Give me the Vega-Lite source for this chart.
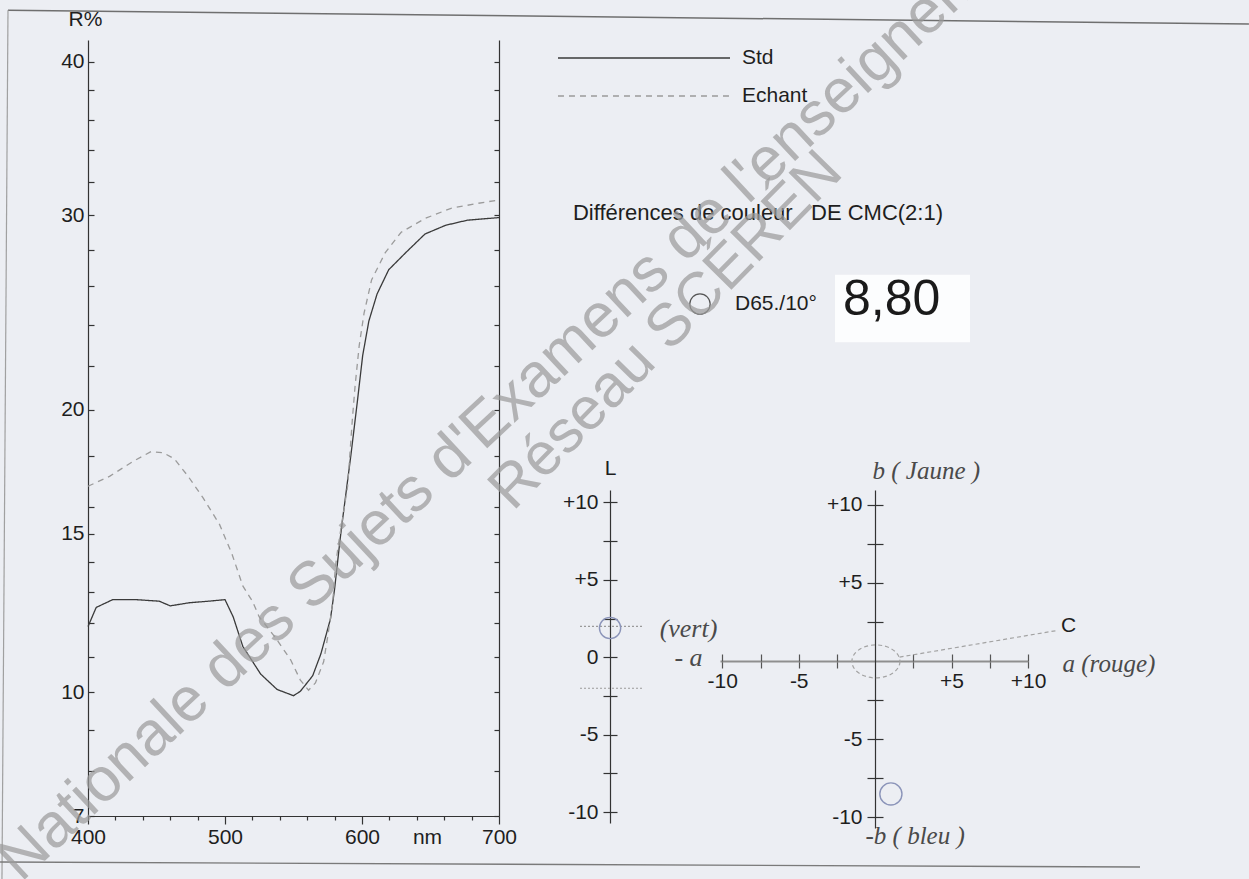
{
  "$schema": "https://vega.github.io/schema/vega-lite/v6.json",
  "width": 1249,
  "height": 879,
  "autosize": {"type": "none"},
  "padding": 0,
  "background": "#eceef3",
  "config": {
    "view": {"stroke": null},
    "font": "Liberation Sans",
    "axis": {
      "labelFont": "Liberation Sans", "titleFont": "Liberation Sans",
      "labelFontSize": 21, "titleFontSize": 21, "titleFontWeight": "normal",
      "labelColor": "#1e1e1e", "titleColor": "#1e1e1e",
      "domainColor": "#333333", "tickColor": "#333333",
      "domainWidth": 1.2, "tickWidth": 1.2, "grid": false,
      "labelOverlap": false, "labelFlush": false
    }
  },
  "datasets": {
    "spectra": [
      {"nm": 400, "R": 11.9, "series": "Std"},
      {"nm": 406, "R": 12.5, "series": "Std"},
      {"nm": 418, "R": 12.75, "series": "Std"},
      {"nm": 435, "R": 12.75, "series": "Std"},
      {"nm": 452, "R": 12.7, "series": "Std"},
      {"nm": 460, "R": 12.55, "series": "Std"},
      {"nm": 474, "R": 12.65, "series": "Std"},
      {"nm": 488, "R": 12.7, "series": "Std"},
      {"nm": 500, "R": 12.75, "series": "Std"},
      {"nm": 506, "R": 12.2, "series": "Std"},
      {"nm": 513, "R": 11.3, "series": "Std"},
      {"nm": 526, "R": 10.5, "series": "Std"},
      {"nm": 538, "R": 10.07, "series": "Std"},
      {"nm": 550, "R": 9.9, "series": "Std"},
      {"nm": 555, "R": 10.02, "series": "Std"},
      {"nm": 564, "R": 10.45, "series": "Std"},
      {"nm": 570, "R": 11.08, "series": "Std"},
      {"nm": 577, "R": 12.14, "series": "Std"},
      {"nm": 580, "R": 13.1, "series": "Std"},
      {"nm": 584, "R": 14.8, "series": "Std"},
      {"nm": 586, "R": 15.6, "series": "Std"},
      {"nm": 592, "R": 18.1, "series": "Std"},
      {"nm": 596.5, "R": 20.3, "series": "Std"},
      {"nm": 600.5, "R": 22.5, "series": "Std"},
      {"nm": 605, "R": 24.2, "series": "Std"},
      {"nm": 611, "R": 25.6, "series": "Std"},
      {"nm": 619.5, "R": 26.9, "series": "Std"},
      {"nm": 632, "R": 27.85, "series": "Std"},
      {"nm": 646, "R": 28.9, "series": "Std"},
      {"nm": 661, "R": 29.4, "series": "Std"},
      {"nm": 677, "R": 29.7, "series": "Std"},
      {"nm": 700, "R": 29.85, "series": "Std"},
      {"nm": 400, "R": 16.8, "series": "Echant"},
      {"nm": 416, "R": 17.2, "series": "Echant"},
      {"nm": 433, "R": 17.8, "series": "Echant"},
      {"nm": 446, "R": 18.2, "series": "Echant"},
      {"nm": 455, "R": 18.15, "series": "Echant"},
      {"nm": 463, "R": 17.9, "series": "Echant"},
      {"nm": 473, "R": 17.2, "series": "Echant"},
      {"nm": 484, "R": 16.35, "series": "Echant"},
      {"nm": 496, "R": 15.35, "series": "Echant"},
      {"nm": 505, "R": 14.3, "series": "Echant"},
      {"nm": 513, "R": 13.2, "series": "Echant"},
      {"nm": 520, "R": 12.7, "series": "Echant"},
      {"nm": 525, "R": 12.2, "series": "Echant"},
      {"nm": 537, "R": 11.55, "series": "Echant"},
      {"nm": 548, "R": 10.9, "series": "Echant"},
      {"nm": 555, "R": 10.33, "series": "Echant"},
      {"nm": 561, "R": 10.05, "series": "Echant"},
      {"nm": 566, "R": 10.25, "series": "Echant"},
      {"nm": 572, "R": 10.85, "series": "Echant"},
      {"nm": 575, "R": 11.6, "series": "Echant"},
      {"nm": 578.6, "R": 12.65, "series": "Echant"},
      {"nm": 580.5, "R": 13.8, "series": "Echant"},
      {"nm": 582.4, "R": 14.5, "series": "Echant"},
      {"nm": 589.5, "R": 16.8, "series": "Echant"},
      {"nm": 593, "R": 19.6, "series": "Echant"},
      {"nm": 595, "R": 21.1, "series": "Echant"},
      {"nm": 598, "R": 23.0, "series": "Echant"},
      {"nm": 601.5, "R": 24.6, "series": "Echant"},
      {"nm": 607, "R": 26.35, "series": "Echant"},
      {"nm": 617, "R": 27.85, "series": "Echant"},
      {"nm": 628.6, "R": 29.0, "series": "Echant"},
      {"nm": 646, "R": 29.8, "series": "Echant"},
      {"nm": 665, "R": 30.4, "series": "Echant"},
      {"nm": 685, "R": 30.7, "series": "Echant"},
      {"nm": 700, "R": 30.9, "series": "Echant"}
    ],
    "lightness": [{"sample": "Echant", "dL": 1.89}],
    "tolerance": [{"bound": "+", "dL": 2}, {"bound": "-", "dL": -2}],
    "chromaticity": [{"sample": "Echant", "da": 1.03, "db": -8.52}],
    "ellipse": [{"da": 0.05, "db": -0.03}],
    "chroma_axis": [{"da": 1.6, "db": 0.25, "end": ""}, {"da": 11.9, "db": 1.95, "end": "C"}],
    "result": [{"title": "Différences de couleur\u00a0\u00a0\u00a0DE CMC(2:1)", "illuminant": "D65./10°", "dE": "8,80"}],
    "watermark": [{"line1": "Nationale des Sujets d'Examens de l'enseignement professionnel", "line2": "Réseau SCÉRÉN"}],
    "page": [{"element": "frame"}]
  },
  "layer": [
    {
      "data": {"name": "page"},
      "layer": [
        {
          "mark": {"type": "rule", "color": "#6f6f6f", "strokeWidth": 1.5},
          "encoding": {
            "x": {"datum": 341.6, "type": "quantitative", "scale": {"domain": [400, 700], "range": [88, 499], "nice": false, "zero": false}, "axis": null},
            "x2": {"datum": 1247.4},
            "y": {"datum": 43.85, "type": "quantitative", "scale": {"type": "pow", "exponent": 0.3, "domain": [7, 41.6], "range": [816, 40], "nice": false, "zero": false}, "axis": null},
            "y2": {"datum": 42.79}
          }
        },
        {
          "mark": {"type": "rule", "color": "#a0a0a0", "strokeWidth": 1.2},
          "encoding": {
            "x": {"datum": 341.6, "type": "quantitative", "scale": {"domain": [400, 700], "range": [88, 499], "nice": false, "zero": false}, "axis": null},
            "x2": {"datum": 337.2},
            "y": {"datum": 43.85, "type": "quantitative", "scale": {"type": "pow", "exponent": 0.3, "domain": [7, 41.6], "range": [816, 40], "nice": false, "zero": false}, "axis": null},
            "y2": {"datum": 5.748}
          }
        },
        {
          "mark": {"type": "rule", "color": "#7a7a7a", "strokeWidth": 1.4},
          "encoding": {
            "x": {"datum": 335.8, "type": "quantitative", "scale": {"domain": [400, 700], "range": [88, 499], "nice": false, "zero": false}, "axis": null},
            "x2": {"datum": 1167.9},
            "y": {"datum": 6.069, "type": "quantitative", "scale": {"type": "pow", "exponent": 0.3, "domain": [7, 41.6], "range": [816, 40], "nice": false, "zero": false}, "axis": null},
            "y2": {"datum": 5.974}
          }
        }
      ]
    },
    {
      "data": {"name": "spectra"},
      "layer": [
        {
          "mark": {"type": "line", "strokeWidth": 1.3},
          "encoding": {
            "x": {"field": "nm", "type": "quantitative",
              "scale": {"domain": [400, 700], "range": [88, 499], "nice": false, "zero": false},
              "axis": {"orient": "bottom", "offset": -63, "values": [400, 500, 600, 700], "format": "d", "tickSize": 8, "labelPadding": 2,
                "title": "nm", "titleX": 427, "titleY": 21, "titleAngle": 0, "titleAlign": "center", "titleBaseline": "middle"}},
            "y": {"field": "R", "type": "quantitative",
              "scale": {"type": "pow", "exponent": 0.3, "domain": [7, 41.6], "range": [816, 40], "nice": false, "zero": false},
              "axis": {"orient": "left", "offset": -88,
                "values": [7, 8, 9, 10, 11, 12, 13, 14, 15, 16, 18, 20, 22, 24, 26, 28, 30, 32, 34, 36, 38, 40],
                "labelExpr": "indexof([7, 10, 15, 20, 30, 40], datum.value) >= 0 ? datum.label : ''",
                "tickSize": -6, "labelPadding": 10,
                "title": "R%", "titleAngle": 0, "titleX": -3, "titleY": 19, "titleAlign": "center", "titleBaseline": "middle"}},
            "color": {"field": "series", "type": "nominal",
              "scale": {"domain": ["Std", "Echant"], "range": ["#3a3a3a", "#9b9b9b"]},
              "legend": {"title": null, "orient": "none", "legendX": 633.5, "legendY": 47.5, "symbolType": "M-10,0H10", "symbolSize": 296,
                "symbolStrokeWidth": 1.3, "labelFontSize": 21, "labelFont": "Liberation Sans", "labelColor": "#1e1e1e", "labelOffset": 87.5, "rowPadding": 16, "padding": 0}},
            "strokeDash": {"field": "series", "type": "nominal",
              "scale": {"domain": ["Std", "Echant"], "range": [[1, 0], [6, 5]]},
              "legend": {"title": null, "orient": "none", "legendX": 633.5, "legendY": 47.5, "symbolType": "M-10,0H10", "symbolSize": 296,
                "symbolStrokeWidth": 1.3, "labelFontSize": 21, "labelFont": "Liberation Sans", "labelColor": "#1e1e1e", "labelOffset": 87.5, "rowPadding": 16, "padding": 0}}
          }
        },
        {
          "mark": {"type": "point", "opacity": 0},
          "encoding": {
            "x": {"field": "nm", "type": "quantitative",
              "scale": {"domain": [400, 700], "range": [88, 499], "nice": false, "zero": false},
              "axis": {"orient": "bottom", "offset": -63, "values": [420, 440, 460, 480, 520, 540, 560, 580, 620, 640, 660, 680],
                "tickSize": 4, "labels": false, "domain": false, "title": null}},
            "y": {"field": "R", "type": "quantitative",
              "scale": {"type": "pow", "exponent": 0.3, "domain": [7, 41.6], "range": [816, 40], "nice": false, "zero": false},
              "axis": {"orient": "right", "offset": -750,
                "values": [7, 8, 9, 10, 11, 12, 13, 14, 15, 16, 18, 20, 22, 24, 26, 28, 30, 32, 34, 36, 38, 40],
                "tickSize": -5, "labels": false, "domain": true, "title": null}}
          }
        }
      ],
      "resolve": {"axis": {"x": "independent", "y": "independent"}}
    },
    {
      "layer": [
        {
          "data": {"name": "tolerance"},
          "mark": {"type": "rule", "color": "#9a9a9a", "strokeWidth": 1.2, "strokeDash": [2, 2]},
          "encoding": {
            "x": {"datum": -1, "type": "quantitative", "scale": {"domain": [-1, 1], "range": [580, 642]}, "axis": null},
            "x2": {"datum": 1},
            "y": {"field": "dL", "type": "quantitative",
              "scale": {"domain": [-10.7, 10.8], "range": [823, 490], "nice": false, "zero": false},
              "axis": {"orient": "left", "offset": -610, "values": [-10, -7.5, -5, -2.5, 0, 2.5, 5, 7.5, 10],
                "labelExpr": "datum.value % 5 === 0 ? (datum.value > 0 ? '+' + datum.value : '' + datum.value) : ''",
                "tickSize": 7, "labelPadding": 5,
                "title": "L", "titleAngle": 0, "titleX": 0, "titleY": 468, "titleAlign": "center", "titleBaseline": "middle"}}
          }
        },
        {
          "data": {"name": "lightness"},
          "mark": {"type": "point", "shape": "circle", "filled": false, "size": 452, "stroke": "#8b94b9", "strokeWidth": 1.4, "opacity": 1},
          "encoding": {
            "x": {"datum": -0.03, "type": "quantitative", "scale": {"domain": [-1, 1], "range": [580, 642]}, "axis": null},
            "y": {"field": "dL", "type": "quantitative",
              "scale": {"domain": [-10.7, 10.8], "range": [823, 490], "nice": false, "zero": false},
              "axis": {"orient": "left", "offset": -610, "values": [-10, -7.5, -5, -2.5, 0, 2.5, 5, 7.5, 10],
                "tickSize": -7, "labels": false, "domain": false, "title": null}}
          }
        }
      ],
      "resolve": {"axis": {"y": "independent"}}
    },
    {
      "layer": [
        {
          "data": {"name": "chromaticity"},
          "mark": {"type": "point", "shape": "circle", "filled": false, "size": 491, "stroke": "#8b94b9", "strokeWidth": 1.4, "opacity": 1},
          "encoding": {
            "x": {"field": "da", "type": "quantitative",
              "scale": {"domain": [-10.15, 10], "range": [720, 1028], "nice": false, "zero": false},
              "axis": {"orient": "bottom", "offset": -218, "values": [-10, -7.5, -5, -2.5, 2.5, 5, 7.5, 10],
                "labelExpr": "datum.value % 5 === 0 ? (datum.value > 0 ? '+' + datum.value : '' + datum.value) : ''",
                "tickSize": 7, "labelPadding": 2, "domainColor": "#8f8f8f", "domainWidth": 2, "tickColor": "#555555",
                "title": "a (rouge)", "titleX": 1062, "titleY": 2, "titleAngle": 0, "titleAlign": "left", "titleBaseline": "middle",
                "titleFont": "Liberation Serif", "titleFontStyle": "italic", "titleFontSize": 25, "titleColor": "#4a4a4a"}},
            "y": {"field": "db", "type": "quantitative",
              "scale": {"domain": [-10.7, 10.95], "range": [828, 490], "nice": false, "zero": false},
              "axis": {"orient": "left", "offset": -875, "values": [-10, -7.5, -5, -2.5, 2.5, 5, 7.5, 10],
                "labelExpr": "datum.value % 5 === 0 ? (datum.value > 0 ? '+' + datum.value : '' + datum.value) : ''",
                "tickSize": 8, "labelPadding": 5,
                "title": "b ( Jaune )", "titleAngle": 0, "titleX": -3, "titleY": 470, "titleAlign": "left", "titleBaseline": "middle",
                "titleFont": "Liberation Serif", "titleFontStyle": "italic", "titleFontSize": 25, "titleColor": "#4a4a4a"}}
          }
        },
        {
          "data": {"name": "ellipse"},
          "mark": {"type": "point", "shape": "M1,0C1,0.3797,0.5523,0.6875,0,0.6875C-0.5523,0.6875,-1,0.3797,-1,0C-1,-0.3797,-0.5523,-0.6875,0,-0.6875C0.5523,-0.6875,1,-0.3797,1,0Z",
            "filled": false, "size": 2304, "stroke": "#a3a3a3", "strokeWidth": 1.2, "strokeDash": [4, 3], "opacity": 1},
          "encoding": {
            "x": {"field": "da", "type": "quantitative",
              "scale": {"domain": [-10.15, 10], "range": [720, 1028], "nice": false, "zero": false},
              "axis": {"orient": "bottom", "offset": -218, "values": [-10, -7.5, -5, -2.5, 2.5, 5, 7.5, 10],
                "tickSize": -7, "labels": false, "domain": false, "tickColor": "#555555",
                "title": ["(vert)", "- a"], "titleX": 688, "titleY": -33, "titleAngle": 0, "titleAlign": "center", "titleBaseline": "middle", "titleLineHeight": 29,
                "titleFont": "Liberation Serif", "titleFontStyle": "italic", "titleFontSize": 26, "titleColor": "#4a4a4a"}},
            "y": {"field": "db", "type": "quantitative",
              "scale": {"domain": [-10.7, 10.95], "range": [828, 490], "nice": false, "zero": false},
              "axis": {"orient": "left", "offset": -875, "values": [-10, -7.5, -5, -2.5, 2.5, 5, 7.5, 10],
                "tickSize": -8, "labels": false, "domain": false,
                "title": "-b ( bleu )", "titleAngle": 0, "titleX": -10, "titleY": 835, "titleAlign": "left", "titleBaseline": "middle",
                "titleFont": "Liberation Serif", "titleFontStyle": "italic", "titleFontSize": 25, "titleColor": "#4a4a4a"}}
          }
        },
        {
          "data": {"name": "chroma_axis"},
          "mark": {"type": "line", "stroke": "#a3a3a3", "strokeWidth": 1.2, "strokeDash": [4, 3]},
          "encoding": {
            "x": {"field": "da", "type": "quantitative", "scale": {"domain": [-10.15, 10], "range": [720, 1028], "nice": false, "zero": false}, "axis": null},
            "y": {"field": "db", "type": "quantitative", "scale": {"domain": [-10.7, 10.95], "range": [828, 490], "nice": false, "zero": false}, "axis": null}
          }
        },
        {
          "data": {"name": "chroma_axis"},
          "mark": {"type": "text", "align": "left", "baseline": "middle", "dx": 4, "dy": -5, "fontSize": 21, "color": "#1e1e1e"},
          "encoding": {
            "x": {"field": "da", "type": "quantitative", "scale": {"domain": [-10.15, 10], "range": [720, 1028], "nice": false, "zero": false}, "axis": null},
            "y": {"field": "db", "type": "quantitative", "scale": {"domain": [-10.7, 10.95], "range": [828, 490], "nice": false, "zero": false}, "axis": null},
            "text": {"field": "end"}
          }
        },
        {
          "data": {"name": "result"},
          "mark": {"type": "text", "align": "left", "baseline": "middle", "fontSize": 22, "color": "#1e1e1e"},
          "encoding": {
            "x": {"datum": -19.77, "type": "quantitative", "scale": {"domain": [-10.15, 10], "range": [720, 1028], "nice": false, "zero": false}, "axis": null},
            "y": {"datum": 28.69, "type": "quantitative", "scale": {"domain": [-10.7, 10.95], "range": [828, 490], "nice": false, "zero": false}, "axis": null},
            "text": {"field": "title"}
          }
        },
        {
          "data": {"name": "result"},
          "mark": {"type": "point", "shape": "circle", "filled": false, "size": 415, "stroke": "#555555", "strokeWidth": 1.2, "opacity": 1},
          "encoding": {
            "x": {"datum": -11.46, "type": "quantitative", "scale": {"domain": [-10.15, 10], "range": [720, 1028], "nice": false, "zero": false}, "axis": null},
            "y": {"datum": 22.86, "type": "quantitative", "scale": {"domain": [-10.7, 10.95], "range": [828, 490], "nice": false, "zero": false}, "axis": null}
          }
        },
        {
          "data": {"name": "result"},
          "mark": {"type": "text", "align": "left", "baseline": "middle", "fontSize": 21, "color": "#1e1e1e"},
          "encoding": {
            "x": {"datum": -9.17, "type": "quantitative", "scale": {"domain": [-10.15, 10], "range": [720, 1028], "nice": false, "zero": false}, "axis": null},
            "y": {"datum": 22.86, "type": "quantitative", "scale": {"domain": [-10.7, 10.95], "range": [828, 490], "nice": false, "zero": false}, "axis": null},
            "text": {"field": "illuminant"}
          }
        },
        {
          "data": {"name": "result"},
          "mark": {"type": "point", "shape": "M-1,-0.5H1V0.5H-1Z", "filled": true, "size": 18225, "color": "#ffffff", "opacity": 0.85, "strokeWidth": 0},
          "encoding": {
            "x": {"datum": 1.79, "type": "quantitative", "scale": {"domain": [-10.15, 10], "range": [720, 1028], "nice": false, "zero": false}, "axis": null},
            "y": {"datum": 22.58, "type": "quantitative", "scale": {"domain": [-10.7, 10.95], "range": [828, 490], "nice": false, "zero": false}, "axis": null}
          }
        },
        {
          "data": {"name": "result"},
          "mark": {"type": "text", "align": "left", "baseline": "middle", "fontSize": 50, "color": "#1a1a1a"},
          "encoding": {
            "x": {"datum": -2.1, "type": "quantitative", "scale": {"domain": [-10.15, 10], "range": [720, 1028], "nice": false, "zero": false}, "axis": null},
            "y": {"datum": 23.12, "type": "quantitative", "scale": {"domain": [-10.7, 10.95], "range": [828, 490], "nice": false, "zero": false}, "axis": null},
            "text": {"field": "dE"}
          }
        }
      ],
      "resolve": {"axis": {"x": "independent", "y": "independent"}}
    },
    {
      "data": {"name": "watermark"},
      "layer": [
        {
          "mark": {"type": "text", "angle": -43, "fontSize": 62, "font": "Liberation Sans", "color": "#9c9c9c", "opacity": 0.72, "align": "left", "baseline": "alphabetic"},
          "encoding": {
            "x": {"datum": 351.1, "type": "quantitative", "scale": {"domain": [400, 700], "range": [88, 499], "nice": false, "zero": false}, "axis": null},
            "y": {"datum": 5.675, "type": "quantitative", "scale": {"type": "pow", "exponent": 0.3, "domain": [7, 41.6], "range": [816, 40], "nice": false, "zero": false}, "axis": null},
            "text": {"field": "line1"}
          }
        },
        {
          "mark": {"type": "text", "angle": -45.5, "fontSize": 60, "font": "Liberation Sans", "color": "#9c9c9c", "opacity": 0.72, "align": "left", "baseline": "alphabetic"},
          "encoding": {
            "x": {"datum": 710.2, "type": "quantitative", "scale": {"domain": [400, 700], "range": [88, 499], "nice": false, "zero": false}, "axis": null},
            "y": {"datum": 15.81, "type": "quantitative", "scale": {"type": "pow", "exponent": 0.3, "domain": [7, 41.6], "range": [816, 40], "nice": false, "zero": false}, "axis": null},
            "text": {"field": "line2"}
          }
        }
      ]
    }
  ],
  "resolve": {
    "scale": {"x": "independent", "y": "independent"},
    "axis": {"x": "independent", "y": "independent"}
  }
}
